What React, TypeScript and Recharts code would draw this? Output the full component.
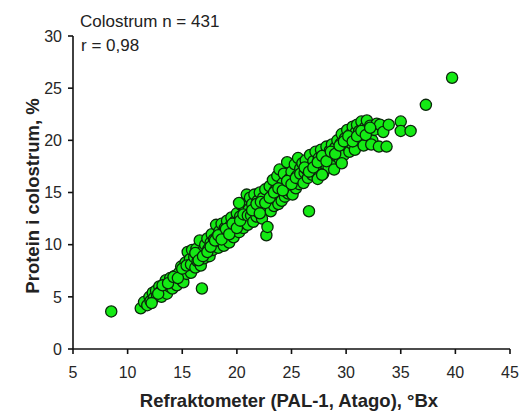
import React from 'react';
import { ScatterChart, Scatter, XAxis, YAxis } from 'recharts';

// Refraktometer (°Bx) vs protein (%).
const lowBand: [number, number][] = [
  [11.2, 3.9], [11.5, 4.5], [11.8, 4.2], [12.0, 5.0], [12.1, 4.6], [12.3, 5.4], [12.4, 4.9],
  [12.6, 5.6], [12.7, 5.1], [12.9, 6.0], [13.0, 5.5], [13.1, 5.0], [13.3, 6.2], [13.4, 5.7],
  [13.5, 6.6], [13.6, 5.3], [13.8, 6.0], [13.9, 6.8], [14.0, 6.3], [14.1, 5.8], [14.3, 7.0],
  [14.4, 6.5], [14.5, 6.1], [14.7, 7.3], [14.8, 6.7], [14.9, 7.9], [15.0, 7.0], [15.1, 6.4],
  [15.2, 7.6], [15.3, 8.3], [15.4, 7.2], [15.5, 9.3], [15.6, 7.8], [15.7, 8.6], [15.8, 7.3],
  [15.9, 9.5], [16.0, 8.2], [12.2, 4.4], [12.8, 5.3], [13.2, 6.1], [13.7, 6.3], [14.2, 6.9],
  [14.6, 6.8], [15.0, 7.7], [15.4, 8.0], [15.8, 8.1],
];

const midLowBand: [number, number][] = [
  [16.1, 8.8], [16.2, 7.8], [16.3, 9.6], [16.4, 8.4], [16.5, 9.1], [16.6, 10.4], [16.7, 8.0],
  [16.9, 9.4], [17.0, 8.7], [17.1, 10.0], [17.2, 9.1], [17.3, 10.6], [17.4, 9.6], [17.5, 8.9],
  [17.6, 10.2], [17.7, 11.0], [17.8, 9.5], [17.9, 10.5], [18.0, 9.9], [18.1, 11.9], [18.2, 10.8],
  [18.3, 9.7], [18.4, 11.3], [18.5, 10.3], [18.6, 12.0], [18.7, 10.9], [18.8, 9.9], [18.9, 11.6],
  [19.0, 10.6], [19.1, 12.3], [19.2, 11.1], [19.3, 10.2], [19.4, 11.8], [19.5, 12.6], [19.6, 11.3],
  [19.7, 10.7], [19.8, 12.2], [19.9, 11.6], [20.0, 13.0], [20.1, 12.0], [20.2, 11.2], [20.3, 12.7],
  [20.4, 13.8], [20.5, 12.3], [20.6, 11.6], [20.7, 13.2], [20.8, 14.2], [20.9, 12.6], [21.0, 11.9],
  [21.1, 13.4], [16.2, 9.2], [16.5, 8.5], [16.9, 8.9], [17.3, 9.3], [17.6, 9.8], [18.0, 10.4],
  [18.3, 10.9], [18.6, 10.5], [19.0, 11.5], [19.3, 11.0], [19.6, 12.0], [20.0, 11.6], [20.3, 12.3],
  [20.6, 12.9], [21.0, 12.8], [20.2, 14.0], [20.9, 14.8],
];

const midHighBand: [number, number][] = [
  [21.2, 14.5], [21.3, 12.8], [21.4, 13.9], [21.5, 12.2], [21.6, 14.8], [21.7, 13.5], [21.8, 12.7],
  [21.9, 14.2], [22.0, 13.1], [22.1, 15.0], [22.2, 13.8], [22.3, 12.5], [22.4, 14.5], [22.5, 13.4],
  [22.6, 15.3], [22.7, 10.9], [22.8, 11.7], [22.9, 14.0], [23.0, 15.6], [23.1, 13.2], [23.2, 14.7],
  [23.3, 16.2], [23.4, 13.7], [23.5, 15.2], [23.6, 14.3], [23.7, 16.6], [23.8, 13.9], [23.9, 17.2],
  [24.0, 15.0], [24.1, 14.2], [24.2, 15.9], [24.3, 16.8], [24.4, 14.6], [24.5, 15.5], [24.6, 17.9],
  [24.7, 14.9], [24.8, 16.3], [24.9, 15.1], [25.0, 17.0], [25.1, 14.8], [25.2, 16.0], [25.3, 17.7],
  [25.4, 15.4], [25.5, 16.6], [25.6, 18.3], [25.7, 15.8], [25.8, 17.3], [25.9, 16.2], [26.0, 17.8],
  [21.4, 13.3], [21.8, 13.9], [22.2, 14.1], [22.6, 14.0], [23.0, 14.5], [23.4, 15.0], [23.8, 15.4],
  [24.2, 15.2], [24.6, 16.1], [25.0, 15.8], [25.4, 16.4], [25.8, 16.8], [22.1, 13.0],
];

const highBand: [number, number][] = [
  [26.1, 15.9], [26.2, 16.9], [26.3, 18.1], [26.4, 17.2], [26.5, 16.4], [26.7, 18.6], [26.8, 17.5],
  [26.9, 16.7], [27.0, 18.0], [27.1, 17.0], [27.2, 18.9], [27.3, 17.6], [27.4, 16.3], [27.5, 18.3],
  [27.6, 17.4], [27.7, 19.1], [27.8, 18.0], [27.9, 16.8], [28.0, 18.6], [28.1, 17.7], [28.2, 19.4],
  [28.3, 18.3], [28.4, 17.4], [28.5, 19.0], [28.6, 18.0], [28.7, 19.6], [28.8, 18.7], [28.9, 17.2],
  [29.0, 19.3], [29.1, 18.5], [29.2, 20.0], [29.3, 19.0], [29.4, 18.2], [29.5, 19.7], [29.6, 20.6],
  [29.7, 19.2], [29.8, 18.6], [29.9, 20.2], [30.0, 19.5], [30.1, 21.0], [30.2, 20.0], [30.3, 18.9],
  [30.4, 20.6], [30.5, 19.7], [30.6, 21.3], [30.7, 20.2], [30.8, 19.1], [30.9, 20.8], [31.0, 21.5],
  [31.1, 20.0], [31.2, 20.9], [31.4, 21.8], [31.5, 20.4], [31.6, 19.5], [31.7, 21.2], [31.9, 21.9],
  [32.0, 20.7], [32.2, 21.4], [32.4, 20.0], [32.6, 21.0], [32.8, 21.6], [33.1, 21.5], [33.4, 20.8],
  [26.2, 17.4], [26.6, 17.0], [27.0, 17.4], [27.4, 17.9], [27.8, 18.5], [28.2, 18.0], [28.6, 18.9],
  [29.0, 18.7], [29.4, 19.5], [29.8, 19.9], [30.2, 20.4], [30.6, 19.9], [31.0, 20.4], [31.4, 20.9],
  [31.8, 20.5], [32.2, 21.2], [29.6, 17.8], [27.8, 16.7], [32.3, 19.6],
];

const outliers: [number, number][] = [
  [8.5, 3.6], [16.8, 5.8], [26.6, 13.2], [33.0, 19.4], [33.7, 19.4], [33.9, 21.5],
  [35.0, 21.8], [35.0, 20.9], [35.9, 20.9], [37.3, 23.4], [39.7, 26.0],
];

const xTicks = [5, 10, 15, 20, 25, 30, 35, 40, 45];
const yTicks = [0, 5, 10, 15, 20, 25, 30];

const points = [...lowBand, ...midLowBand, ...midHighBand, ...highBand, ...outliers].map(
  ([bx, protein]) => ({ bx, protein }),
);

const FONT = '"Liberation Sans", Arial, sans-serif';

function Dot(props: any) {
  const { cx, cy } = props;
  if (cx == null || cy == null) return null;
  return <circle cx={cx} cy={cy} r={5.6} fill="#14ea14" stroke="#0b260b" strokeWidth={1.3} />;
}

export default function App() {
  const tick = { fontSize: 16, fill: '#262626', fontFamily: FONT };
  return (
    <div style={{ position: 'absolute', left: 0, top: 0, width: 521, height: 414, background: '#fff' }}>
      <ScatterChart width={521} height={414} margin={{ top: 36, right: 11, bottom: 0, left: 0 }}>
        <XAxis
          type="number"
          dataKey="bx"
          domain={[5, 45]}
          ticks={xTicks}
          height={65}
          tickSize={5}
          tickMargin={13}
          tick={tick}
          stroke="#111"
          strokeWidth={1.6}
          allowDataOverflow
        />
        <YAxis
          type="number"
          dataKey="protein"
          domain={[0, 30]}
          ticks={yTicks}
          width={73}
          tickSize={5}
          tickMargin={6}
          tick={tick}
          stroke="#111"
          strokeWidth={1.6}
          allowDataOverflow
        />
        <Scatter data={points} shape={<Dot />} isAnimationActive={false} />
      </ScatterChart>
      <svg
        width={521}
        height={414}
        style={{ position: 'absolute', left: 0, top: 0, pointerEvents: 'none' }}
      >
        <text x={80} y={27} fontSize={17} fontFamily={FONT} fill="#222">
          Colostrum n = 431
        </text>
        <text x={81} y={51} fontSize={17} fontFamily={FONT} fill="#222">
          r = 0,98
        </text>
        <text
          x={289}
          y={407}
          textAnchor="middle"
          fontSize={18.5}
          fontWeight="bold"
          fontFamily={FONT}
          fill="#222"
        >
          Refraktometer (PAL-1, Atago), °Bx
        </text>
        <text
          transform="translate(39,196) rotate(-90)"
          textAnchor="middle"
          fontSize={18.5}
          fontWeight="bold"
          fontFamily={FONT}
          fill="#222"
        >
          Protein i colostrum, %
        </text>
      </svg>
    </div>
  );
}
